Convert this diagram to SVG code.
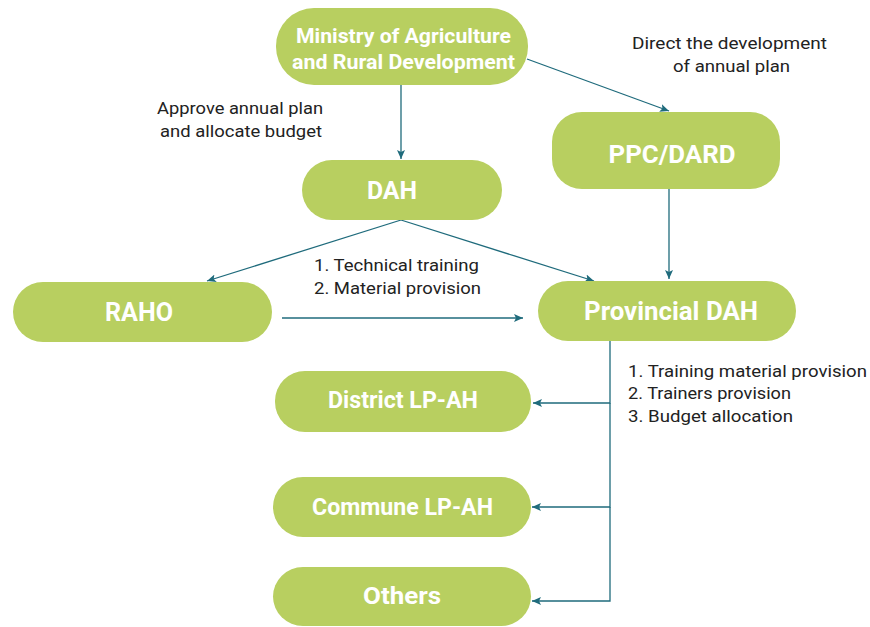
<svg xmlns="http://www.w3.org/2000/svg" width="870" height="627" viewBox="0 0 870 627">
<style>
.node{fill:#b8cf60}
.nt{fill:#ffffff;font-family:Roboto,"Liberation Sans",sans-serif;font-weight:bold;text-anchor:middle}
.lb{fill:#222222;font-family:Roboto,"Liberation Sans",sans-serif;font-size:16.5px}
.c{fill:none;stroke:#1f6b7c;stroke-width:1.3}
</style>
<defs>
<marker id="ah" markerUnits="userSpaceOnUse" markerWidth="10" markerHeight="10" viewBox="0 0 10 10" refX="9" refY="5" orient="auto">
<path d="M0,1 L9,5 L0,9 L2,5 z" fill="#1f6b7c"/>
</marker>
</defs>
<rect width="870" height="627" fill="#ffffff"/>
<g id="connectors">
<path class="c" d="M401,85 V159" marker-end="url(#ah)"/>
<path class="c" d="M527,59 L669,111" marker-end="url(#ah)"/>
<path class="c" d="M401,220 L207,281" marker-end="url(#ah)"/>
<path class="c" d="M401,220 L594,281" marker-end="url(#ah)"/>
<path class="c" d="M669,189 V279" marker-end="url(#ah)"/>
<path class="c" d="M282,318 H523" marker-end="url(#ah)"/>
<path class="c" d="M610,341 V403 H533" marker-end="url(#ah)"/>
<path class="c" d="M610,403 V507 H532" marker-end="url(#ah)"/>
<path class="c" d="M610,507 V601 H532" marker-end="url(#ah)"/>
</g>
<g id="ministry">
<rect class="node" x="276" y="8" width="252" height="77" rx="38"/>
<text class="nt" x="403.5" y="43" font-size="20.5" textLength="215" lengthAdjust="spacingAndGlyphs">Ministry of Agriculture</text>
<text class="nt" x="403.5" y="69" font-size="20.5" textLength="223" lengthAdjust="spacingAndGlyphs">and Rural Development</text>
</g>
<g id="dah">
<rect class="node" x="302" y="160" width="200" height="60" rx="30"/>
<text class="nt" x="392" y="199" font-size="26.5" textLength="50" lengthAdjust="spacingAndGlyphs">DAH</text>
</g>
<g id="ppc">
<rect class="node" x="552" y="112" width="228" height="77" rx="30"/>
<text class="nt" x="672" y="163" font-size="26.5" textLength="127" lengthAdjust="spacingAndGlyphs">PPC/DARD</text>
</g>
<g id="raho">
<rect class="node" x="13" y="282" width="259" height="60" rx="30"/>
<text class="nt" x="139" y="321" font-size="25" textLength="68" lengthAdjust="spacingAndGlyphs">RAHO</text>
</g>
<g id="provincial">
<rect class="node" x="538" y="281" width="258" height="60" rx="30"/>
<text class="nt" x="671" y="320" font-size="25" textLength="174" lengthAdjust="spacingAndGlyphs">Provincial DAH</text>
</g>
<g id="district">
<rect class="node" x="275" y="371" width="256" height="61" rx="30"/>
<text class="nt" x="403" y="408" font-size="23" textLength="150" lengthAdjust="spacingAndGlyphs">District LP-AH</text>
</g>
<g id="commune">
<rect class="node" x="273" y="477" width="258" height="60" rx="30"/>
<text class="nt" x="402.5" y="515" font-size="23" textLength="181" lengthAdjust="spacingAndGlyphs">Commune LP-AH</text>
</g>
<g id="others">
<rect class="node" x="273" y="567" width="258" height="59" rx="30"/>
<text class="nt" x="402" y="604" font-size="23" textLength="78" lengthAdjust="spacingAndGlyphs">Others</text>
</g>
<g id="labels">
<text class="lb" x="157" y="114" textLength="166" lengthAdjust="spacingAndGlyphs">Approve annual plan</text>
<text class="lb" x="160" y="137" textLength="162" lengthAdjust="spacingAndGlyphs">and allocate budget</text>
<text class="lb" x="632" y="49" textLength="195" lengthAdjust="spacingAndGlyphs">Direct the development</text>
<text class="lb" x="673" y="72" textLength="117" lengthAdjust="spacingAndGlyphs">of annual plan</text>
<text class="lb" x="314" y="271" textLength="165" lengthAdjust="spacingAndGlyphs">1. Technical training</text>
<text class="lb" x="314" y="294" textLength="167" lengthAdjust="spacingAndGlyphs">2. Material provision</text>
<text class="lb" x="628" y="377" textLength="239" lengthAdjust="spacingAndGlyphs">1. Training material provision</text>
<text class="lb" x="628" y="399" textLength="163" lengthAdjust="spacingAndGlyphs">2. Trainers provision</text>
<text class="lb" x="628" y="422" textLength="165" lengthAdjust="spacingAndGlyphs">3. Budget allocation</text>
</g>
</svg>
